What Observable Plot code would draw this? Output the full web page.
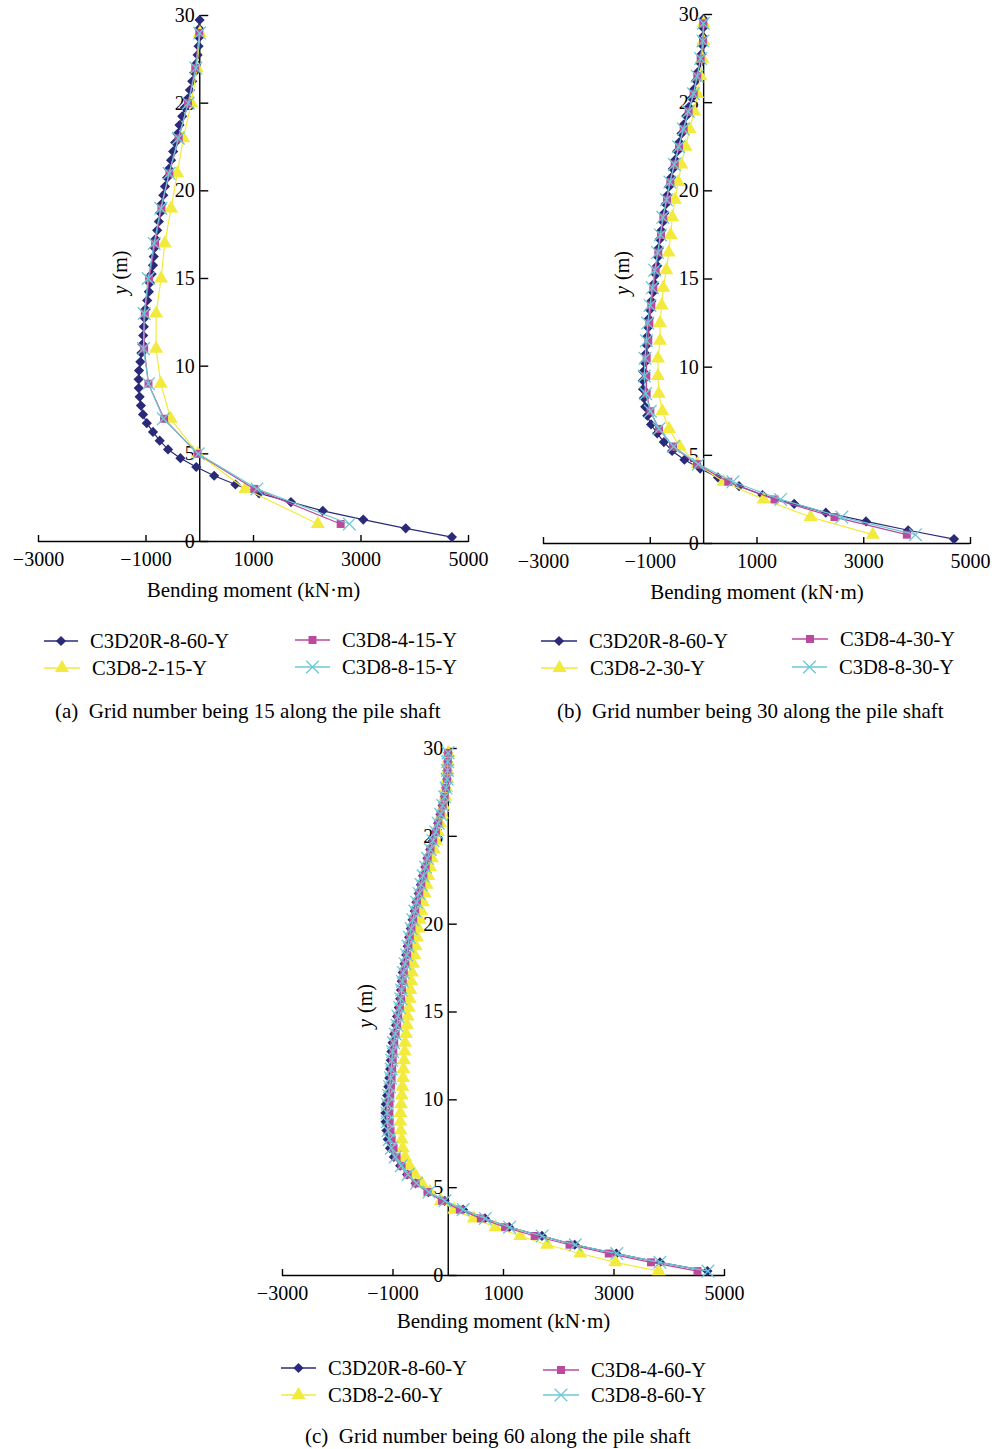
<!DOCTYPE html>
<html><head><meta charset="utf-8">
<script src="https://cdn.jsdelivr.net/npm/d3@7"></script>
<script src="https://cdn.jsdelivr.net/npm/@observablehq/plot@0.6"></script>
<style>
body{margin:0;background:#fff;font-family:"Liberation Serif",serif;color:#000}
#page{position:relative;width:994px;height:1449px;overflow:hidden}
.panel{position:absolute}
.leg{position:absolute;display:flex;align-items:center;font-size:20.5px;line-height:24px;white-space:nowrap}
.leg svg{margin-right:12px}
.cap{position:absolute;font-size:21px;line-height:24px;white-space:pre}
</style></head><body><div id="page"></div><script>
// ---- depths (m) ----
const depth60 = [0.25,0.75,1.25,1.75,2.25,2.75,3.25,3.75,4.25,4.75,5.25,5.75,6.25,6.75,7.25,7.75,8.25,8.75,9.25,9.75,10.25,10.75,11.25,11.75,12.25,12.75,13.25,13.75,14.25,14.75,15.25,15.75,16.25,16.75,17.25,17.75,18.25,18.75,19.25,19.75,20.25,20.75,21.25,21.75,22.25,22.75,23.25,23.75,24.25,24.75,25.25,25.75,26.25,26.75,27.25,27.75,28.25,28.75,29.25,29.75];
const depth30 = [0.5,1.5,2.5,3.5,4.5,5.5,6.5,7.5,8.5,9.5,10.5,11.5,12.5,13.5,14.5,15.5,16.5,17.5,18.5,19.5,20.5,21.5,22.5,23.5,24.5,25.5,26.5,27.5,28.5,29.5];
const depth15 = [1,3,5,7,9,11,13,15,17,19,21,23,25,27,29];

// ---- bending moment (kN·m) ----
const refC3D20R = [4691,3832,3042,2289,1696,1103,664,268,-65,-360,-590,-745,-870,-985,-1055,-1095,-1118,-1135,-1137,-1130,-1105,-1085,-1066,-1052,-1040,-1028,-1008,-978,-946,-926,-895,-870,-856,-842,-823,-792,-760,-735,-709,-678,-646,-608,-576,-533,-495,-457,-414,-376,-326,-277,-226,-183,-140,-102,-65,-40,-22,-15,-9,-3];

const a_2_15 = [2196,849,-34,-540,-726,-812,-812,-720,-651,-534,-417,-306,-157,-52,3];
const a_4_15 = [2622,1016,-40,-664,-954,-1034,-1022,-942,-830,-713,-565,-392,-219,-83,-9];
const a_8_15 = [2783,1065,-28,-676,-954,-1047,-1034,-960,-849,-726,-571,-398,-213,-71,-3];

const b_2_30 = [3170,2003,1123,374,-119,-449,-649,-774,-842,-855,-855,-817,-817,-786,-755,-699,-655,-618,-587,-537,-474,-418,-337,-262,-175,-119,-56,-25,-6,0];
const b_4_30 = [3807,2452,1329,462,-125,-574,-836,-998,-1067,-1073,-1067,-1036,-1017,-980,-942,-899,-849,-799,-755,-686,-624,-543,-462,-374,-281,-187,-119,-56,-12,-6];
const b_8_30 = [3969,2590,1442,549,-100,-562,-836,-998,-1086,-1111,-1098,-1073,-1048,-1005,-961,-917,-862,-810,-765,-696,-632,-550,-468,-379,-285,-190,-121,-57,-13,-6];

const c_2_60 = [3808,3026,2388,1792,1305,854,463,108,-132,-331,-481,-602,-704,-782,-824,-842,-860,-866,-866,-854,-842,-830,-818,-812,-800,-788,-782,-764,-746,-734,-716,-698,-686,-668,-656,-638,-614,-589,-565,-541,-517,-487,-457,-427,-391,-361,-331,-295,-259,-223,-186,-150,-114,-84,-54,-36,-18,-12,-6,0];
const c_4_60 = [4511,3669,2905,2195,1564,1029,590,210,-114,-375,-590,-735,-845,-935,-990,-1025,-1045,-1060,-1065,-1062,-1050,-1037,-1025,-1015,-1005,-995,-978,-952,-924,-905,-876,-852,-838,-825,-806,-776,-745,-721,-696,-666,-635,-598,-567,-525,-488,-451,-409,-372,-322,-274,-224,-181,-138,-101,-64,-39,-21,-14,-8,-2];
const c_8_60 = [4700,3830,3050,2300,1700,1110,670,270,-60,-350,-575,-728,-850,-960,-1030,-1068,-1090,-1105,-1108,-1102,-1080,-1062,-1045,-1032,-1020,-1008,-990,-960,-930,-911,-881,-857,-844,-831,-813,-783,-752,-728,-703,-672,-641,-604,-573,-530,-492,-455,-412,-375,-325,-276,-226,-182,-139,-101,-64,-39,-21,-14,-8,-2];

// ---- ticks & labels ----
const xTicks = [-3000,-1000,1000,3000,5000];
const yTicks = [0,5,10,15,20,25,30];
const xLabel = "Bending moment (kN\u00B7m)";
const captions = ["(a)  Grid number being 15 along the pile shaft","(b)  Grid number being 30 along the pile shaft","(c)  Grid number being 60 along the pile shaft"];

// ---- styles ----
const styles = [
  {color:"#2a2a78", symbol:"diamond2", r:4.6, stroke:false},
  {color:"#f2ea3c", symbol:"triangle", r:5.2, stroke:false},
  {color:"#bb4a9e", symbol:"square", r:4.5, stroke:false},
  {color:"#6cc8d4", symbol:"times", r:5.8, stroke:true}
];

const panels = [
  {left:0, top:0, width:497, height:610, mL:38, mR:29, mT:15, mB:69, yDx:82, titleDy:55,
   names:["C3D20R-8-60-Y","C3D8-2-15-Y","C3D8-4-15-Y","C3D8-8-15-Y"],
   series:[[depth60,refC3D20R],[depth15,a_2_15],[depth15,a_4_15],[depth15,a_8_15]],
   leg:[[44,641,90],[44,668,92],[295,640,342],[295,667,342]], cap:[55,711]},
  {left:497, top:0, width:497, height:610, mL:46, mR:24, mT:14, mB:67, yDx:79, titleDy:55,
   names:["C3D20R-8-60-Y","C3D8-2-30-Y","C3D8-4-30-Y","C3D8-8-30-Y"],
   series:[[depth60,refC3D20R],[depth30,b_2_30],[depth30,b_4_30],[depth30,b_8_30]],
   leg:[[541,641,589],[541,668,590],[792,639,840],[792,667,839]], cap:[557,711]},
  {left:0, top:735, width:994, height:610, mL:282, mR:270, mT:13, mB:70, yDx:83, titleDy:52,
   names:["C3D20R-8-60-Y","C3D8-2-60-Y","C3D8-4-60-Y","C3D8-8-60-Y"],
   series:[[depth60,refC3D20R],[depth60,c_2_60],[depth60,c_4_60],[depth60,c_8_60]],
   leg:[[281,1368,328],[281,1395,328],[543,1370,591],[543,1395,591]], cap:[305,1436]}
];

const fmtX = d => d < 0 ? "\u2212" + Math.abs(d) : String(d);
const page = document.getElementById("page");

panels.forEach((p, pi) => {
  const marks = [
    Plot.ruleY([0], {stroke:"#000", strokeWidth:1.4}),
    Plot.ruleX([0], {stroke:"#000", strokeWidth:1.4}),
    Plot.axisX(xTicks, {anchor:"top", y:0, tickSize:7, fill:"none", stroke:"#000", strokeWidth:1.4}),
    Plot.axisX(xTicks, {anchor:"bottom", tickSize:0, tickPadding:10, tickFormat:fmtX, label:null, fill:"#000"}),
    Plot.axisY(yTicks, {anchor:"right", x:0, tickSize:8, fill:"none", stroke:"#000", strokeWidth:1.4}),
    Plot.axisY(yTicks, {anchor:"left", x:0, tickSize:0, tickPadding:5, label:null, fill:"#000"}),
    Plot.text([xLabel], {frameAnchor:"bottom", dy:p.titleDy, text:d=>d, fill:"#000", fontSize:21}),
    Plot.text(["y"], {frameAnchor:"left", dx:p.yDx, dy:7, rotate:-90, textAnchor:"end", fontStyle:"italic", text:d=>d, fill:"#000"}),
    Plot.text(["(m)"], {frameAnchor:"left", dx:p.yDx, dy:1, rotate:-90, textAnchor:"start", text:d=>d, fill:"#000"})
  ];
  p.series.forEach(([ys, ms], si) => {
    const st = styles[si];
    const data = ys.map((y, i) => ({y, m: ms[i]}));
    marks.push(Plot.line(data, {x:"m", y:"y", stroke:st.color, strokeWidth:1.2}));
    marks.push(Plot.dot(data, st.stroke
      ? {x:"m", y:"y", symbol:st.symbol, r:st.r, stroke:st.color, strokeWidth:1.3, fill:"none"}
      : {x:"m", y:"y", symbol:st.symbol, r:st.r, fill:st.color, stroke:"none"}));
  });
  const svg = Plot.plot({
    width:p.width, height:p.height,
    marginLeft:p.mL, marginRight:p.mR, marginTop:p.mT, marginBottom:p.mB,
    x:{domain:[-3000,5000]}, y:{domain:[0,30]},
    style:{fontFamily:"'Liberation Serif', serif", fontSize:"20px", background:"transparent", color:"#000", overflow:"visible"},
    marks
  });
  svg.classList.add("panel");
  svg.style.left = p.left + "px"; svg.style.top = p.top + "px";
  page.appendChild(svg);

  // legend
  p.names.forEach((name, si) => {
    const st = styles[si];
    const [sx, cy, tx] = p.leg[si];
    const div = document.createElement("div");
    div.className = "leg";
    div.style.left = sx + "px"; div.style.top = (cy - 12) + "px";
    const w = tx - sx - 12;
    const sym = {diamond2:d3.symbolDiamond2, triangle:d3.symbolTriangle, square:d3.symbolSquare, times:d3.symbolTimes}[st.symbol];
    const path = d3.symbol(sym, Math.PI * st.r * st.r)();
    div.innerHTML = `<svg width="${w}" height="16" viewBox="0 0 ${w} 16"><line x1="0" x2="${w}" y1="8" y2="8" stroke="${st.color}" stroke-width="1.5"/><path transform="translate(${w/2},8)" d="${path}" ${st.stroke ? `fill="none" stroke="${st.color}" stroke-width="1.3"` : `fill="${st.color}"`}/></svg><span>${name}</span>`;
    page.appendChild(div);
  });
  const cap = document.createElement("div");
  cap.className = "cap";
  cap.style.left = p.cap[0] + "px"; cap.style.top = (p.cap[1] - 12) + "px";
  cap.textContent = captions[pi];
  page.appendChild(cap);
});
</script></body></html>
